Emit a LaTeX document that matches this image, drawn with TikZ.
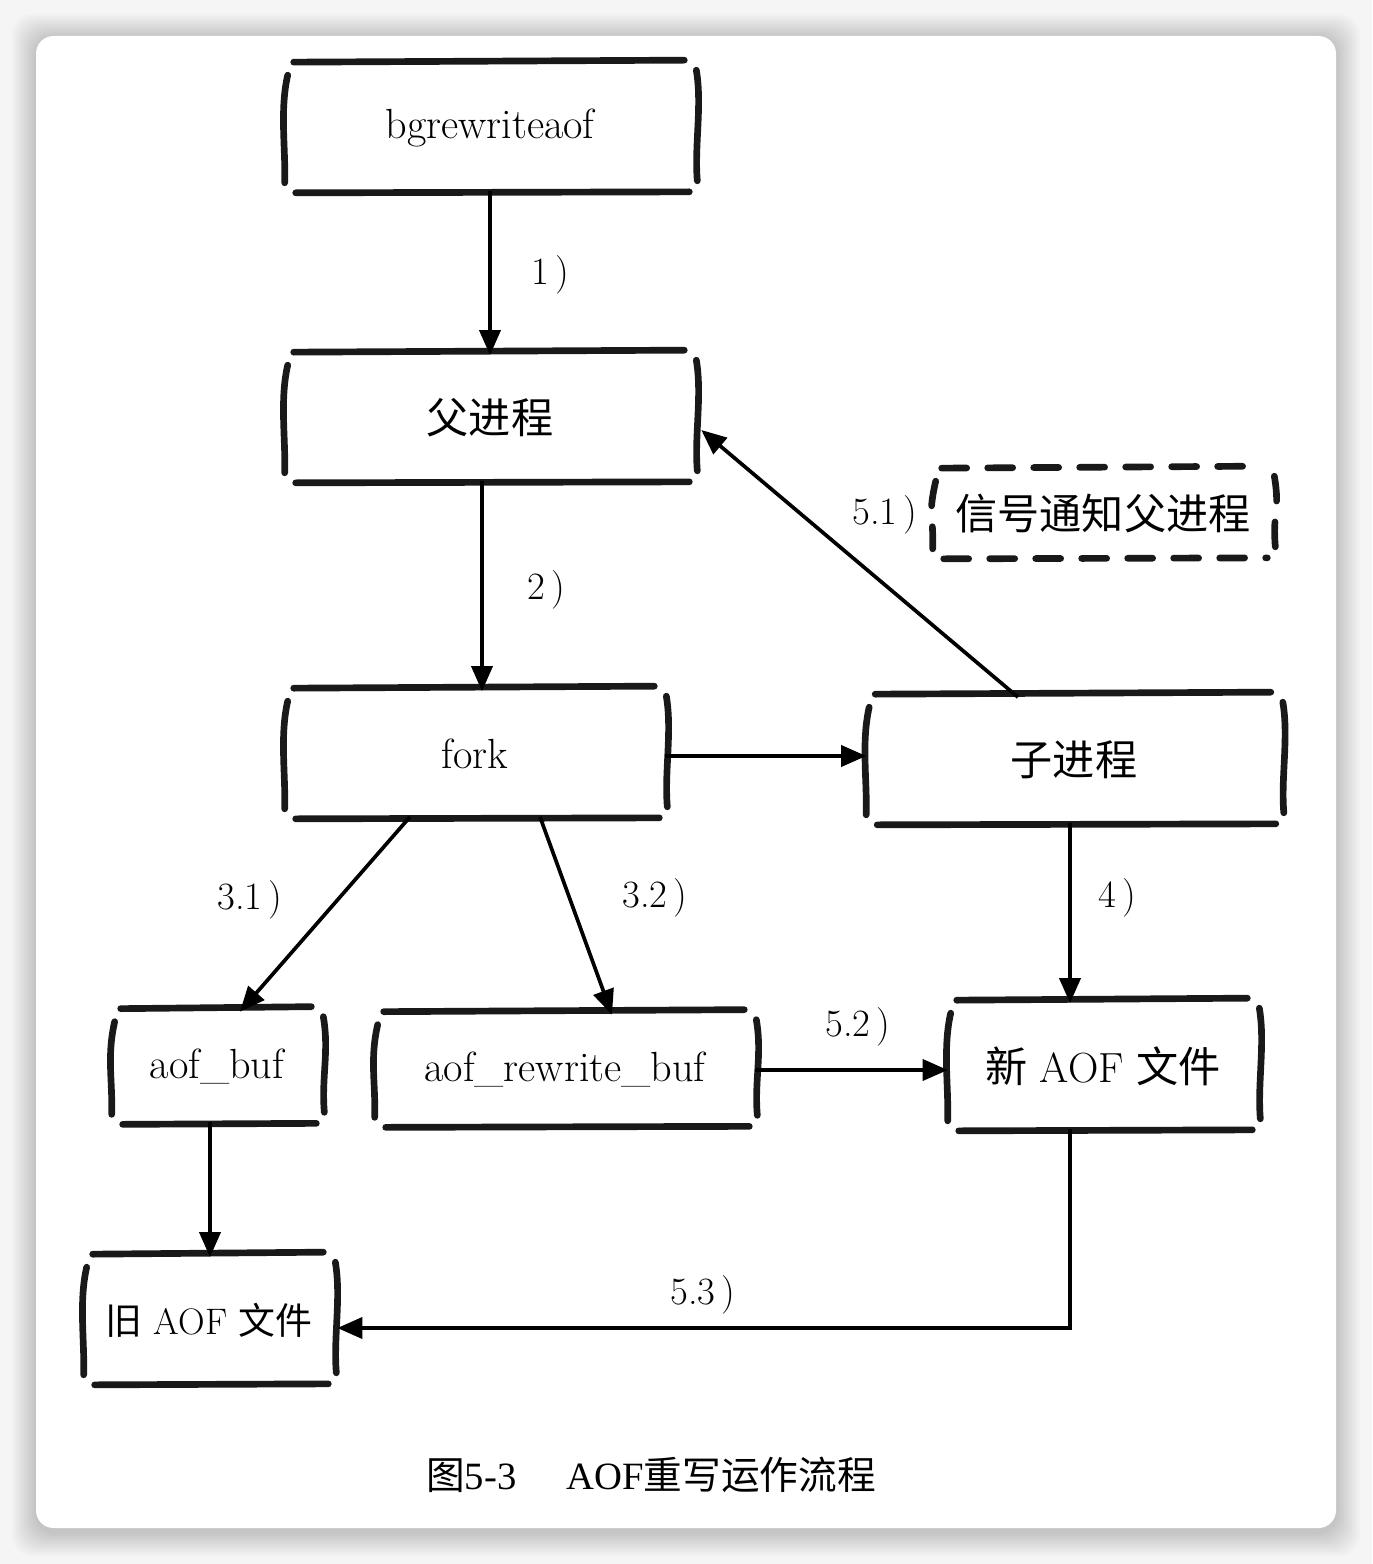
\documentclass[tikz,border=0pt]{standalone}
\usepackage{fontspec}
\newfontfamily\cjk{Noto Sans CJK SC}
\newfontfamily\capfont{Liberation Serif}
\usetikzlibrary{arrows.meta,positioning}

\tikzset{
    stepbox/.style={minimum width=#1, minimum height=2.5cm, inner sep=0pt,
        font=\fontsize{24}{28}\selectfont},
    stepbox/.default={8.2cm},
    roughline/.style={line width=3.8pt, line cap=round, black!90},
    flow/.style={line width=2.1pt, -{Triangle[length=0.5cm,width=0.42cm]}},
    steplabel/.style={font=\fontsize{22}{26}\selectfont, inner sep=0pt}
}

% four loose strokes round a named node
\newcommand\roughbox[2][]{%
    \draw[roughline,#1] ([xshift=0.18cm,yshift=0.06cm]#2.north west) -- ([xshift=-0.22cm,yshift=0.1cm]#2.north east);
    \draw[roughline,#1] ([xshift=0.22cm,yshift=-0.04cm]#2.south west) -- ([xshift=-0.12cm,yshift=-0.02cm]#2.south east);
    \draw[roughline,#1] ([xshift=0.06cm,yshift=-0.2cm]#2.north west)
        .. controls +(-0.16cm,-0.7cm) and +(0.02cm,0.7cm) .. ([yshift=0.16cm]#2.south west);
    \draw[roughline,#1] ([xshift=0.02cm,yshift=-0.1cm]#2.north east)
        .. controls +(0.12cm,-0.7cm) and +(-0.06cm,0.7cm) .. ([xshift=0.04cm,yshift=0.2cm]#2.south east);
}

\begin{document}
\begin{tikzpicture}[x=0.02cm, y=-0.02cm]
    % page and card
    \fill[black!4] (0,0) rectangle (1372,1564);
    \foreach \i in {1,...,12} {
        \fill[black, opacity=0.016, rounded corners=12]
            (36-2*\i, 38-2*\i) rectangle (1336+2*\i, 1532+2*\i);
    }
    \fill[white, rounded corners=10] (36,36) rectangle (1336,1528);
    \useasboundingbox (0,0) rectangle (1372,1564);

    % boxes
    \node[stepbox] (rewrite) at (490,128) {bgrewriteaof};
    \node[stepbox] (parent) at (490,418) {\cjk 父进程};
    \node[stepbox=7.6cm] (fork) at (475,754) {fork};
    \node[stepbox=8.3cm] (child) at (1074,760) {\cjk 子进程};
    \node[stepbox=6.8cm, minimum height=1.7cm] (notify) at (1103,514) {\cjk 信号通知父进程};
    \node[stepbox=4.2cm, minimum height=2.2cm] (aofbuf) at (217,1067) {aof\_buf};
    \node[stepbox=7.6cm, minimum height=2.2cm] (rewritebuf) at (565,1070) {aof\_rewrite\_buf};
    \node[stepbox=6.2cm] (newaof) at (1103,1066) {{\cjk 新} AOF {\cjk 文件}};
    \node[stepbox=5cm, font=\fontsize{21}{25}\selectfont] (oldaof) at (209,1320) {{\cjk 旧} AOF {\cjk 文件}};

    \foreach \b in {rewrite,parent,fork,child,aofbuf,rewritebuf,newaof,oldaof} {
        \roughbox{\b}
    }
    \roughbox[dashed, dash pattern=on 0.5cm off 0.42cm]{notify}

    % connectors
    \draw[flow] (rewrite.south) -- (parent.north);
    \draw[flow] ([xshift=-0.16cm]parent.south) -- ([xshift=0.14cm]fork.north);
    \draw[flow] ([yshift=-0.04cm]fork.east) -- ([yshift=-0.04cm]fork.east -| child.west);
    \draw[flow] ([xshift=-1.12cm]child.north) -- ([xshift=0.12cm,yshift=-0.24cm]parent.east);
    \draw[flow] ([xshift=-1.3cm]fork.south) -- ([xshift=0.46cm]aofbuf.north);
    \draw[flow] ([xshift=1.3cm]fork.south) -- ([xshift=0.94cm]rewritebuf.north);
    \draw[flow] ([xshift=-0.08cm]child.south) -- ([xshift=-0.08cm]child.south |- newaof.north);
    \draw[flow] (rewritebuf.east) -- (rewritebuf.east -| newaof.west);
    \draw[flow] ([xshift=-0.14cm]aofbuf.south) -- ([xshift=-0.14cm]aofbuf.south |- oldaof.north);
    \draw[flow] ([xshift=-0.66cm]newaof.south) |- ([xshift=0.06cm,yshift=-0.16cm]oldaof.east);

    % step labels
    \node[steplabel] (l1) at (550,275) {1\,)};
    \node[steplabel] (l2) at (546,590) {2\,)};
    \node[steplabel] (l51) at (885,515) {5.1\,)};
    \node[steplabel] (l31) at (250,900) {3.1\,)};
    \node[steplabel] (l32) at (655,898) {3.2\,)};
    \node[steplabel] (l4) at (1117,898) {4\,)};
    \node[steplabel] (l52) at (858,1027) {5.2\,)};
    \node[steplabel] (l53) at (703,1295) {5.3\,)};

    % caption
    \node[font=\fontsize{22}{26}\selectfont] (caption) at (651,1475)
        {{\cjk 图}{\capfont 5-3}\hspace{1cm}{\capfont AOF}{\cjk 重写运作流程}};
\end{tikzpicture}
\end{document}
